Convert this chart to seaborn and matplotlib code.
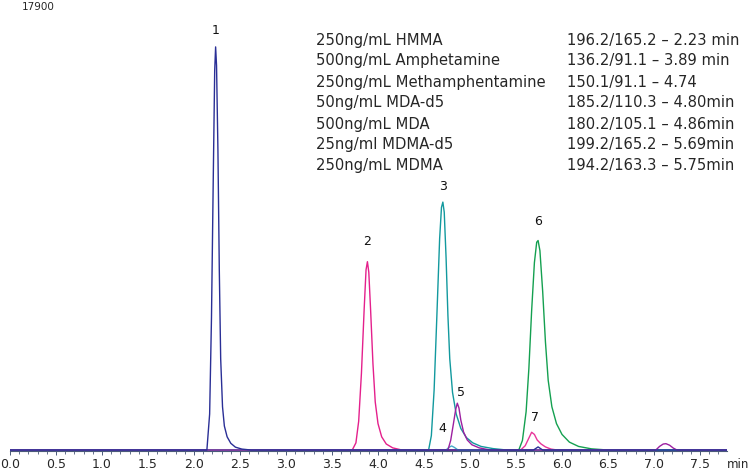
import numpy as np
import pandas as pd
import seaborn as sns
import matplotlib.pyplot as plt
from matplotlib.ticker import MultipleLocator

# chromatogram traces, (time [min], intensity)
hmma_t = [0.0, 2.14, 2.17, 2.19, 2.21, 2.225, 2.235, 2.245, 2.26, 2.275, 2.29, 2.31, 2.33, 2.36, 2.40,
          2.45, 2.52, 2.62, 5.69, 5.74, 5.79, 7.9]
hmma_i = [0, 0, 1500, 5500, 11500, 15800, 16780, 16000, 12500, 7500, 3800, 1800, 1000, 550, 280,
          120, 40, 0, 0, 130, 0, 0]

amph_t = [0.0, 3.72, 3.76, 3.79, 3.82, 3.85, 3.87, 3.885, 3.90, 3.92, 3.945, 3.97, 4.00, 4.04, 4.09,
          4.16, 4.26, 7.9]
amph_i = [0, 0, 300, 1200, 3200, 5900, 7500, 7840, 7400, 5800, 3600, 2000, 1100, 550, 250,
          90, 0, 0]

meth_t = [0.0, 4.55, 4.58, 4.61, 4.64, 4.67, 4.69, 4.705, 4.72, 4.74, 4.76, 4.78, 4.81, 4.85, 4.90,
          4.96, 5.03, 5.12, 5.25, 5.40, 7.9]
meth_i = [0, 0, 600, 2500, 5600, 8800, 10100, 10320, 9900, 8000, 5600, 3800, 2400, 1500, 900,
          520, 300, 150, 60, 0, 0]

mdad5_t = [0.0, 4.74, 4.77, 4.80, 4.83, 4.87, 7.9]
mdad5_i = [0, 0, 110, 170, 110, 0, 0]

mda_t = [0.0, 4.76, 4.79, 4.82, 4.845, 4.862, 4.88, 4.90, 4.93, 4.97, 5.02, 5.10, 5.22,
         7.02, 7.06, 7.10, 7.13, 7.17, 7.21, 7.25, 7.9]
mda_i = [0, 0, 400, 1100, 1700, 1950, 1750, 1250, 750, 420, 220, 90, 0,
         0, 150, 250, 265, 200, 80, 0, 0]

mdmad5_t = [0.0, 5.55, 5.60, 5.64, 5.67, 5.70, 5.73, 5.77, 5.82, 5.88, 5.95, 7.9]
mdmad5_i = [0, 0, 180, 500, 740, 650, 420, 260, 130, 40, 0, 0]

mdma_t = [0.0, 5.53, 5.57, 5.61, 5.64, 5.67, 5.70, 5.725, 5.74, 5.76, 5.79, 5.82, 5.85, 5.89, 5.94,
          6.00, 6.08, 6.18, 6.32, 6.50, 7.9]
mdma_i = [0, 0, 400, 1600, 3400, 5800, 7800, 8650, 8720, 8300, 6600, 4500, 2900, 1800, 1100,
          650, 330, 150, 50, 0, 0]

trace_names = ["MDMA", "MDMA-d5", "Amphetamine", "MDA-d5", "Methamphetamine", "MDA", "HMMA"]
trace_colors = ["#14a050", "#e8359a", "#e4208c", "#45aac8", "#12999e", "#9c1fa0", "#2a2f96"]
trace_data = [(mdma_t, mdma_i), (mdmad5_t, mdmad5_i), (amph_t, amph_i), (mdad5_t, mdad5_i),
              (meth_t, meth_i), (mda_t, mda_i), (hmma_t, hmma_i)]

# peak numbers and where they sit
peak_labels = ["1", "2", "3", "4", "5", "6", "7"]
label_t = [2.23, 3.88, 4.71, 4.70, 4.90, 5.74, 5.71]
label_h = [17480, 8700, 10950, 915, 2414, 9530, 1374]

legend_left = ["250ng/mL HMMA", "500ng/mL Amphetamine", "250ng/mL Methamphentamine",
               "50ng/mL MDA-d5", "500ng/mL MDA", "25ng/ml MDMA-d5", "250ng/mL MDMA"]
legend_right = ["196.2/165.2 \u2013 2.23 min", "136.2/91.1 \u2013 3.89 min", "150.1/91.1 \u2013 4.74",
                "185.2/110.3 \u2013 4.80min", "180.2/105.1 \u2013 4.86min", "199.2/165.2 \u2013 5.69min",
                "194.2/163.3 \u2013 5.75min"]

rows = []
for name, (t, i) in zip(trace_names, trace_data):
    for a, b in zip(t, i):
        rows.append((name, a, b))
df = pd.DataFrame(rows, columns=["trace", "time", "intensity"])

sns.set_style("white")
plt.rcParams['font.family'] = ['DejaVu Sans']

fig = plt.figure(figsize=(7.5, 4.71), dpi=100)
ax = fig.add_axes([10/750, 20/471, 717/750, 431/471])

sns.lineplot(data=df, x="time", y="intensity", hue="trace", hue_order=trace_names,
             palette=dict(zip(trace_names, trace_colors)), estimator=None, sort=False,
             linewidth=1.0, legend=False, ax=ax)

ax.set_xlim(0, 717/92)
ax.set_ylim(-40, 17900)
ax.set_xlabel("")
ax.set_ylabel("")
ax.set_yticks([])
for s in ["left", "right", "top"]:
    ax.spines[s].set_visible(False)
ax.spines["bottom"].set_color("#4a5a7a")
ax.spines["bottom"].set_linewidth(0.8)

ax.xaxis.set_major_locator(MultipleLocator(0.5))
ax.xaxis.set_minor_locator(MultipleLocator(0.1))
ax.xaxis.set_major_formatter(plt.FuncFormatter(lambda v, p: f"{v:.1f}"))
ax.tick_params(axis="x", which="major", direction="out", length=3, width=0.7,
               color="#4a5a7a", labelsize=9, pad=2, bottom=True)
ax.tick_params(axis="x", which="minor", direction="out", length=2, width=0.6,
               color="#4a5a7a", bottom=True)

for lab, t, h in zip(peak_labels, label_t, label_h):
    ax.text(t, h, lab, ha="center", va="center", fontsize=9, color="#111111")

ax.annotate("min", xy=(1, 0), xycoords="axes fraction", xytext=(0, -9.5),
            textcoords="offset points", ha="left", va="center", fontsize=8.5)

fig.text(22/750, 1 - 7/471, "17900", ha="left", va="center", fontsize=7.5)

for k, (l, r) in enumerate(zip(legend_left, legend_right)):
    y = 1 - (40 + 21*k)/471
    fig.text(316/750, y, l, ha="left", va="center", fontsize=10.6)
    fig.text(567/750, y, r, ha="left", va="center", fontsize=10.6)

fig.savefig("out.png", dpi=100)
